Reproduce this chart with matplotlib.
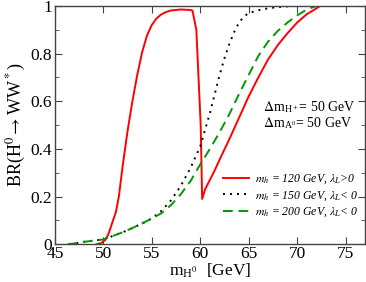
import matplotlib
matplotlib.use("Agg")
import matplotlib.pyplot as plt
from matplotlib.ticker import MultipleLocator

plt.rcParams['font.family'] = ['Liberation Serif', 'DejaVu Serif']
plt.rcParams['mathtext.fontset'] = 'stix'

# red: m_h = 120 GeV, lambda_L > 0
red_x = [49.3, 49.8, 50.2, 50.5, 50.8, 51.0, 51.3, 51.6, 52.0, 52.5, 53.0, 53.5, 54.0,
         54.5, 55.0, 55.5, 56.0, 56.5, 57.0, 58.0, 59.0, 59.2, 59.6, 60.05, 60.2,
         60.5, 61.0, 61.5, 62.0, 63.0, 64.0, 65.0, 66.0, 67.0, 68.0, 69.0, 70.0,
         71.0, 72.0, 72.4]
red_y = [0.0, 0.005, 0.018, 0.04, 0.075, 0.10, 0.135, 0.20, 0.33, 0.475, 0.60, 0.71, 0.805,
         0.875, 0.92, 0.948, 0.965, 0.975, 0.981, 0.985, 0.983, 0.98, 0.90, 0.50, 0.19,
         0.23, 0.27, 0.31, 0.355, 0.44, 0.53, 0.62, 0.70, 0.775, 0.835, 0.885, 0.93,
         0.965, 0.99, 1.0]

# black dotted: m_h = 150 GeV, lambda_L < 0
blk_x = [46.5, 47.0, 48.0, 49.0, 50.0, 51.0, 52.0, 53.0, 54.0, 55.0, 56.0, 57.0, 58.0,
         59.0, 60.0, 60.5, 61.0, 61.5, 62.0, 62.5, 63.0, 63.5, 64.0, 64.5, 65.0, 66.0,
         67.0, 68.0, 69.0, 70.0]
blk_y = [0.0, 0.003, 0.01, 0.015, 0.02, 0.035, 0.05, 0.068, 0.087, 0.108, 0.14, 0.185, 0.245,
         0.32, 0.41, 0.48, 0.55, 0.63, 0.71, 0.78, 0.84, 0.89, 0.93, 0.955, 0.97, 0.982,
         0.99, 0.995, 0.998, 1.0]

# green dashed: m_h = 200 GeV, lambda_L < 0
grn_x = [46.3, 47.0, 48.0, 49.0, 50.0, 51.0, 52.0, 53.0, 54.0, 55.0, 56.0, 57.0, 58.0,
         59.0, 60.0, 61.0, 62.0, 63.0, 64.0, 65.0, 66.0, 67.0, 68.0, 69.0, 70.0, 71.0, 72.0]
grn_y = [0.0, 0.003, 0.01, 0.015, 0.02, 0.035, 0.05, 0.068, 0.087, 0.108, 0.13, 0.165, 0.21,
         0.265, 0.335, 0.40, 0.47, 0.545, 0.63, 0.71, 0.79, 0.85, 0.895, 0.93, 0.96, 0.985, 1.0]

labels = [r'$m_h$ = 120 GeV, $\lambda_L$>0',
          r'$m_h$ = 150 GeV, $\lambda_L$< 0',
          r'$m_h$ = 200 GeV, $\lambda_L$< 0']

fig = plt.figure(figsize=(3.66, 2.82), dpi=100)
ax = fig.add_axes([0.15, 0.134, 0.847, 0.845])

ax.plot(red_x, red_y, color='#ff0000', lw=1.4, label=labels[0])
ax.plot(blk_x, blk_y, color='black', lw=1.4, linestyle=(0, (1, 2.6)), label=labels[1])
ax.plot(grn_x, grn_y, color='#009900', lw=1.4, linestyle=(0, (5, 3)), label=labels[2])

ax.set_xlim(45, 77)
ax.set_ylim(0, 1)
ax.xaxis.set_major_locator(MultipleLocator(5))
ax.yaxis.set_minor_locator(MultipleLocator(0.1))
ax.set_yticks([0, 0.2, 0.4, 0.6, 0.8, 1.0])
ax.set_yticklabels(['0', '0.2', '0.4', '0.6', '0.8', '1'])
ax.tick_params(which='both', direction='in', top=True, right=True, labelsize=12.5,
               color='#444444', pad=2)
ax.tick_params(axis='x', pad=1.5)
ax.tick_params(which='major', length=5)
ax.tick_params(which='minor', length=3)
for s in ax.spines.values():
    s.set_color('#444444')
    s.set_linewidth(1.0)

ax.set_xlabel(r'm$_{\mathregular{H}^0}$  [GeV]', fontsize=12.5, labelpad=-0.5)
ax.set_ylabel(r'BR(H$^0$$\rightarrow$WW$^*$)', fontsize=13, labelpad=2)

ax.text(0.67, 0.56, r'$\Delta$m$_{\mathregular{H}^+}$= 50 GeV', transform=ax.transAxes, fontsize=10)
ax.text(0.67, 0.49, r'$\Delta$m$_{\mathregular{A}^0}$= 50 GeV', transform=ax.transAxes, fontsize=10)

ax.legend(loc='lower right', bbox_to_anchor=(1.0, 0.075), frameon=False,
          prop={'size': 8.5, 'style': 'italic'},
          handlelength=2.2, handletextpad=0.5, labelspacing=0.25, borderaxespad=0.2)

fig.savefig('out.png', dpi=100)
